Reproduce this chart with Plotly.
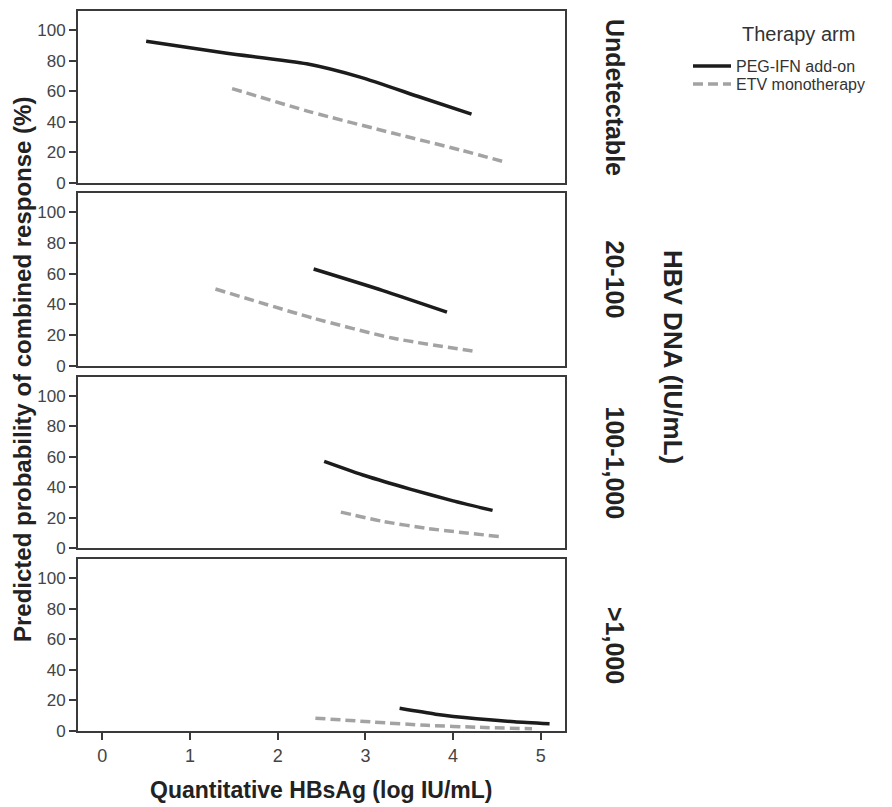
import plotly.graph_objects as go
from plotly.subplots import make_subplots

panels = ["Undetectable", "20-100", "100-1,000", ">1,000"]
legend_title = "Therapy arm"
series_names = ["PEG-IFN add-on", "ETV monotherapy"]

# PEG-IFN add-on (x = log IU/mL, y = %)
peg_x = [
    [0.50, 1.42, 2.33, 2.94, 3.62, 4.21],
    [2.41, 3.20, 3.93],
    [2.53, 3.00, 3.51, 4.00, 4.45],
    [3.39, 3.80, 4.27, 4.70, 5.10],
]
peg_y = [
    [92.6, 84.8, 77.9, 69.2, 56.2, 45.0],
    [63.0, 49.0, 35.0],
    [57.0, 47.5, 38.7, 31.0, 24.7],
    [14.8, 11.0, 8.0, 6.0, 4.7],
]
# ETV monotherapy
etv_x = [
    [1.48, 2.37, 3.32, 4.08, 4.61],
    [1.29, 2.41, 3.32, 4.27],
    [2.72, 3.20, 3.70, 4.53],
    [2.43, 3.10, 3.70, 4.30, 4.90],
]
etv_y = [
    [61.7, 46.5, 32.5, 21.6, 13.4],
    [50.0, 31.0, 18.0, 9.3],
    [23.6, 17.5, 12.9, 7.5],
    [8.4, 5.8, 3.7, 2.4, 1.5],
]

x_ticks = [0, 1, 2, 3, 4, 5]
y_ticks = [0, 20, 40, 60, 80, 100]

FONT = "Arial, Liberation Sans, sans-serif"
NARROW = "Liberation Sans Narrow, Arial Narrow, Liberation Sans, Arial, sans-serif"
AX = "#3a3a3a"

fig = make_subplots(rows=4, cols=1, shared_xaxes=True)

H = 720.0
W = 487.0
tops = [11, 193, 377, 559]
bots = [183, 366, 548, 731]

for i in range(4):
    fig.add_trace(go.Scatter(x=peg_x[i], y=peg_y[i], mode="lines",
                             line=dict(color="#1c1c1c", width=3.5, shape="spline", smoothing=0.6),
                             name=series_names[0], legend="legend", legendgroup="peg",
                             showlegend=(i == 0)),
                  row=i + 1, col=1)
    fig.add_trace(go.Scatter(x=etv_x[i], y=etv_y[i], mode="lines",
                             line=dict(color="#a3a3a3", width=3.5, dash="10px,5px", shape="spline", smoothing=0.6),
                             name=series_names[1], legend="legend2", legendgroup="etv",
                             showlegend=(i == 0)),
                  row=i + 1, col=1)

leg_common = dict(xref="container", yref="container", xanchor="left", yanchor="middle",
                  font=dict(size=16, color="#333333", family=NARROW),
                  itemwidth=38, bgcolor="rgba(0,0,0,0)", borderwidth=0)

layout = dict(
    width=892, height=807,
    margin=dict(l=78, r=327, t=11, b=76, autoexpand=False),
    plot_bgcolor="white", paper_bgcolor="white",
    font=dict(family=FONT, color="#333333", size=15),
    legend=dict(x=688 / 892, y=1 - 66 / 807, **leg_common),
    legend2=dict(x=688 / 892, y=1 - 84 / 807, **leg_common),
)
for i in range(4):
    sfx = "" if i == 0 else str(i + 1)
    d0 = 1 - (bots[i] - 11) / H
    d1 = 1 - (tops[i] - 11) / H
    layout["yaxis" + sfx] = dict(
        domain=[max(d0, 0), min(d1, 1)], range=[0, 112.4],
        tickvals=y_ticks, ticks="outside", ticklen=7, tickwidth=2, tickcolor=AX,
        showline=True, linecolor=AX, linewidth=2, mirror=True,
        showgrid=False, zeroline=False, tickfont=dict(size=17, color="#444444"),
    )
    layout["xaxis" + sfx] = dict(
        range=[-0.277, 5.276], tickvals=x_ticks,
        ticks="outside" if i == 3 else "", ticklen=7, tickwidth=2, tickcolor=AX,
        showticklabels=(i == 3),
        showline=True, linecolor=AX, linewidth=2, mirror=True,
        showgrid=False, zeroline=False, tickfont=dict(size=18, color="#444444"),
    )
fig.update_layout(**layout)

ann = []
for i, lab in enumerate(panels):
    yc = 1 - ((tops[i] + bots[i]) / 2 - 11) / H
    ann.append(dict(text="<b>" + lab + "</b>", x=(615 - 78) / W, y=yc, xref="paper", yref="paper",
                    textangle=90, showarrow=False, font=dict(size=25, color="#222222"),
                    xanchor="center", yanchor="middle"))
ann.append(dict(text="<b>HBV DNA (IU/mL)</b>", x=(673 - 78) / W, y=1 - (357 - 11) / H,
                xref="paper", yref="paper", textangle=90, showarrow=False,
                font=dict(size=26, color="#222222"), xanchor="center", yanchor="middle"))
ann.append(dict(text="<b>Predicted probability of combined response (%)</b>", x=(22 - 78) / W,
                y=1 - (370 - 11) / H, xref="paper", yref="paper", textangle=-90, showarrow=False,
                font=dict(size=24, color="#222222"), xanchor="center", yanchor="middle"))
ann.append(dict(text="<b>Quantitative HBsAg (log IU/mL)</b>", x=(321 - 78) / W,
                y=-(790 - 731) / H, xref="paper", yref="paper", showarrow=False,
                font=dict(size=23, color="#222222"), xanchor="center", yanchor="middle"))
ann.append(dict(text=legend_title, x=(798 - 78) / W, y=1 - (34 - 11) / H, xref="paper", yref="paper",
                showarrow=False, font=dict(size=20, color="#333333"),
                xanchor="center", yanchor="middle"))
fig.update_layout(annotations=ann)

fig.write_html("out.html", config={"displayModeBar": False},
               post_script="document.body.style.margin='0';document.body.style.overflow='hidden';")
